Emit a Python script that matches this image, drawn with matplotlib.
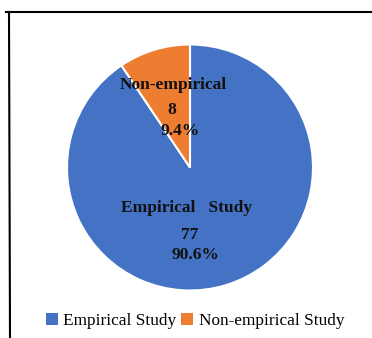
import matplotlib
matplotlib.use("Agg")
import matplotlib.pyplot as plt
from matplotlib.patches import Patch
from matplotlib.lines import Line2D

# study types and counts
categories = ["Empirical Study", "Non-empirical Study"]
counts = [77, 8]
pcts = ["90.6%", "9.4%"]
short_names = ["Empirical   Study", "Non-empirical"]
colors = ["#4472C4", "#ED7D31"]

plt.rcParams["font.family"] = ["Liberation Serif", "DejaVu Serif"]

W, H = 372, 338
fig = plt.figure(figsize=(W / 100, H / 100), dpi=100)

# pie area (pixel box)
cx, cy, r = 190, 167.5, 123
ax = fig.add_axes([(cx - r) / W, (H - cy - r) / H, 2 * r / W, 2 * r / H])
wedges, _ = ax.pie(counts, colors=colors, startangle=90, counterclock=False,
                   wedgeprops=dict(edgecolor="white", linewidth=1.5))
ax.set_xlim(-1, 1)
ax.set_ylim(-1, 1)
ax.set_aspect("auto")
ax.axis("off")

# data label lines (x, baseline y) for name / count / percent of each wedge
label_lines = [
    [(-0.024, -0.359), (0.0, -0.581), (0.041, -0.744)],
    [(-0.138, 0.638), (-0.146, 0.435), (-0.081, 0.264)],
]
for name, n, p, pos in zip(short_names, counts, pcts, label_lines):
    for txt, (x, y) in zip([name, str(n), p], pos):
        ax.text(x, y, txt, ha="center", va="baseline",
                fontsize=12.5, fontweight="bold", color="#111111")

# frame lines
fig.add_artist(Line2D([6 / W, 1], [1 - 12 / H, 1 - 12 / H], color="black", lw=1.5,
                      transform=fig.transFigure))
fig.add_artist(Line2D([9 / W, 10 / W], [1 - 12 / H, 0], color="black", lw=1.5,
                      transform=fig.transFigure))

handles = [Patch(facecolor=c) for c in colors]
fig.legend(handles, categories, loc="center", bbox_to_anchor=(195 / W, 1 - 321 / H),
           ncol=2, frameon=False, fontsize=12.4, handlelength=0.7, handleheight=0.7,
           handletextpad=0.3, columnspacing=0.3)

fig.savefig("out.png", dpi=100)
